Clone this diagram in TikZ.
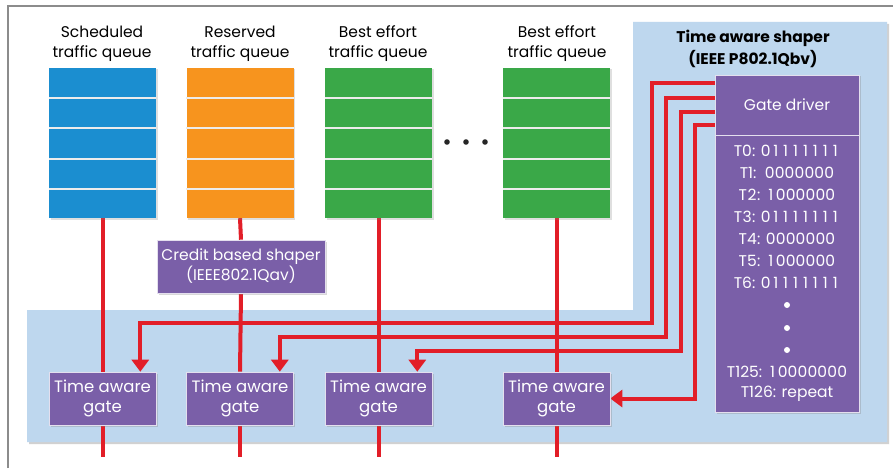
\documentclass[tikz,border=0pt]{standalone}
\usepackage{fontspec}
\setmainfont{Poppins}
\usetikzlibrary{arrows.meta,shadows}

% evenly spaced digits for the schedule entries
\newcommand\tabbits[1]{\tabbitsloop#1\relax}
\def\tabbitsloop#1{\ifx#1\relax\else\makebox[0.64em]{#1}\expandafter\tabbitsloop\fi}

\definecolor{qblue}{RGB}{27,142,208}
\definecolor{qorange}{RGB}{247,148,30}
\definecolor{qgreen}{RGB}{58,168,72}
\definecolor{boxpurple}{RGB}{122,95,168}
\definecolor{zonefill}{RGB}{190,215,238}
\definecolor{sigred}{RGB}{226,30,40}
\definecolor{framegray}{RGB}{140,140,140}

\pgfdeclarelayer{back}
\pgfdeclarelayer{wires}
\pgfsetlayers{back,wires,main}

\tikzset{
  txt/.style={font=\fontsize{15.5}{20}\selectfont, align=center, inner sep=0pt},
  queue/.style={draw=none, minimum width=107pt, minimum height=150pt,
    drop shadow={opacity=0.25, shadow xshift=1.5pt, shadow yshift=-1.5pt}},
  pbox/.style={fill=boxpurple, text=white, draw=white!80!boxpurple, line width=0.6pt,
    font=\fontsize{15.5}{20}\selectfont, align=center, inner sep=0pt,
    drop shadow={opacity=0.3, shadow xshift=1.5pt, shadow yshift=-1.5pt}},
  gatebox/.style={pbox, minimum width=107pt, minimum height=53pt,
    font=\fontsize{16.5}{20}\selectfont},
  sigline/.style={draw=sigred, line width=4pt},
  sigarrow/.style={sigline, -{Triangle[width=17pt,length=12pt]}},
  row/.style={draw=white!85!gray, line width=1.2pt},
}

\begin{document}
\begin{tikzpicture}[x=1pt,y=-1pt]
\useasboundingbox (0,0) rectangle (893,468);

\begin{pgfonlayer}{back}
\fill[white] (0,0) rectangle (893,468);
% outer frame
\draw[framegray, line width=1.5pt] (8,468) -- (8,6) -- (893,6);
% time aware shaper zone (L-shaped)
\fill[black!18] (29,312) -- (635,312) -- (635,24) -- (889,24) -- (889,444) -- (29,444) -- cycle;
\fill[zonefill] (27,310) -- (633,310) -- (633,22) -- (887,22) -- (887,442) -- (27,442) -- cycle;
\end{pgfonlayer}

\node[txt, font=\bfseries\fontsize{15.5}{22}\selectfont] (tashaper) at (753,49) {Time aware shaper\\(IEEE P802.1Qbv)};

% queue labels
\node[txt] (l1) at (102,44) {Scheduled\\traffic queue};
\node[txt] (l2) at (240,44) {Reserved\\traffic queue};
\node[txt] (l3) at (378,44) {Best effort\\traffic queue};
\node[txt] (l4) at (557,44) {Best effort\\traffic queue};

% queues
\node[queue, fill=qblue] (q1) at (102.5,143) {};
\node[queue, fill=qorange] (q2) at (240,143) {};
\node[queue, fill=qgreen] (q3) at (378.5,143) {};
\node[queue, fill=qgreen] (q4) at (556.5,143) {};
\foreach \q in {q1,q2,q3,q4}
  \foreach \y in {98,128,159,189}
    \draw[row] (\q.west |- 0,\y) -- (\q.east |- 0,\y);

% ellipsis
\foreach \x in {447,466,485}
  \fill[black!85] (\x,142) circle (2.8pt);

% gates and shapers
\node[gatebox] (g1) at (102.5,398.5) {Time aware\\gate};
\node[gatebox] (g2) at (240,398.5) {Time aware\\gate};
\node[gatebox] (g3) at (378.5,398.5) {Time aware\\gate};
\node[gatebox] (g4) at (556.5,398.5) {Time aware\\gate};
\node[pbox, minimum width=168pt, minimum height=53pt] (cbs) at (241,266.5) {Credit based shaper\\(IEEE802.1Qav)};

% outputs
\coordinate (o1) at (102.5,457);
\coordinate (o2) at (240,457);
\coordinate (o3) at (378.5,457);
\coordinate (o4) at (556.5,457);

% gate driver
\node[pbox, minimum width=144pt, minimum height=337pt] (gd) at (787,243.5) {};
\draw[white!80!boxpurple, line width=1pt] (gd.west |- 0,135) -- (gd.east |- 0,135);
\node[txt, text=white] (gdt) at (787,105) {Gate driver};
\foreach \t/\y in {T\tabbits{0}: \tabbits{01111111}/151, T1:\ \ \tabbits{0000000}/173,
                   T\tabbits{2}: \tabbits{1000000}/195, T\tabbits{3}: \tabbits{01111111}/217,
                   T\tabbits{4}: \tabbits{0000000}/239, T\tabbits{5}: \tabbits{1000000}/261,
                   T\tabbits{6}: \tabbits{01111111}/283,
                   T125: \tabbits{10000000}/372, T126: repeat/394}
  \node[txt, text=white] at (787,\y) {\t};
\foreach \y in {305,328,350}
  \fill[white] (787,\y) circle (3pt);

% driver taps
\coordinate (d1) at (gd.west |- 0,83);
\coordinate (d2) at (gd.west |- 0,98);
\coordinate (d3) at (gd.west |- 0,112);
\coordinate (d4) at (gd.west |- 0,125);

% arrow targets on the gates
\coordinate (a1) at ([xshift=-16pt]g1.north east);
\coordinate (a2) at ([xshift=-14pt]g2.north east);
\coordinate (a3) at ([xshift=-15pt]g3.north east);
\coordinate (a4) at (g4.east);

\begin{pgfonlayer}{wires}
% data paths
\draw[sigline] (q1.south) -- (g1.north);
\draw[sigline] (q2.south) -- (cbs.north);
\draw[sigline] (cbs.south) -- (g2.north);
\draw[sigline] (q3.south) -- (g3.north);
\draw[sigline] (q4.south) -- (g4.north);
\draw[sigline] (g1.south) -- (o1);
\draw[sigline] (g2.south) -- (o2);
\draw[sigline] (g3.south) -- (o3);
\draw[sigline] (g4.south) -- (o4);
% gate control
\draw[sigarrow] (d1) -| (652,323) -| (a1);
\draw[sigarrow] (d2) -| (666,337) -| (a2);
\draw[sigarrow] (d3) -| (681,351) -| (a3);
\draw[sigarrow] (d4) -| (695,398.5) -- (a4);
\end{pgfonlayer}
\end{tikzpicture}
\end{document}
